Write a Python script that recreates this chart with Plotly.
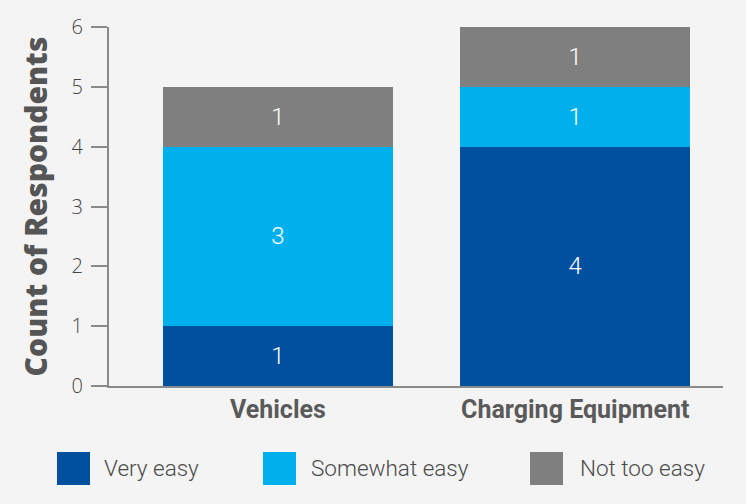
import plotly.graph_objects as go

categories = ["Vehicles", "Charging Equipment"]
series_names = ["Very easy", "Somewhat easy", "Not too easy"]
very_easy = [1, 4]
somewhat_easy = [3, 1]
not_too_easy = [1, 1]
series_values = [very_easy, somewhat_easy, not_too_easy]
colors = ["#0050a0", "#00b0ec", "#7f7f7f"]
y_ticks = [0, 1, 2, 3, 4, 5, 6]

W, H = 746, 504
L, R, T, B = 109, 23, 27, 118
BG = "#f4f4f4"
AXIS = "#8a8a8a"

def px_x(p):
    return (p - L) / (W - L - R)

def px_y(p):
    return (H - B - p) / (H - T - B)

fig = go.Figure()
for name, vals, col in zip(series_names, series_values, colors):
    fig.add_trace(go.Bar(
        x=categories, y=vals, name=name, marker=dict(color=col, line=dict(width=0)),
        width=0.774, text=vals, textposition="inside", insidetextanchor="middle",
        textangle=0, constraintext="none",
        textfont=dict(family="Roboto", size=24, color="white", weight=300),
        showlegend=False, hoverinfo="skip",
    ))

# custom legend (large square swatches)
sq_left = [57, 263, 530]
txt_left = [102, 309, 578]
for name, col, sx, tx in zip(series_names, colors, sq_left, txt_left):
    fig.add_shape(type="rect", xref="paper", yref="paper",
                  x0=px_x(sx), x1=px_x(sx + 33), y0=px_y(452), y1=px_y(485),
                  fillcolor=col, line=dict(width=0), layer="above")
    fig.add_annotation(text=name, xref="paper", yref="paper", x=px_x(tx), y=px_y(468),
                       xanchor="left", yanchor="middle", showarrow=False,
                       font=dict(family="Roboto", size=22.5, color="#4a4a4a", weight=300))

fig.update_layout(
    barmode="stack",
    width=W, height=H,
    margin=dict(l=L, r=R, t=T, b=B, pad=0),
    paper_bgcolor=BG, plot_bgcolor=BG,
    showlegend=False,
    xaxis=dict(range=[-0.568, 1.497], showline=True, linecolor=AXIS, linewidth=2,
               ticks="", showgrid=False, zeroline=False,
               tickfont=dict(family="Roboto", size=25, color="#5a5a5a", weight=700),
               ticklabelstandoff=0),
    yaxis=dict(range=[0, 6], tickvals=y_ticks, showline=True, linecolor=AXIS, linewidth=2,
               ticks="outside", ticklen=16, tickwidth=2, tickcolor=AXIS,
               showgrid=False, zeroline=False,
               tickfont=dict(family="Open Sans", size=20, color="#444444", weight=300),
               ticklabelstandoff=4,
               title=dict(text="Count of Respondents", standoff=15,
                          font=dict(family="Open Sans", size=30, color="#555555", weight=800))),
)

fig.write_html("out.html", config={"displayModeBar": False},
               post_script="document.body.style.margin='0';document.body.style.overflow='hidden';document.body.style.background='%s';" % BG)
